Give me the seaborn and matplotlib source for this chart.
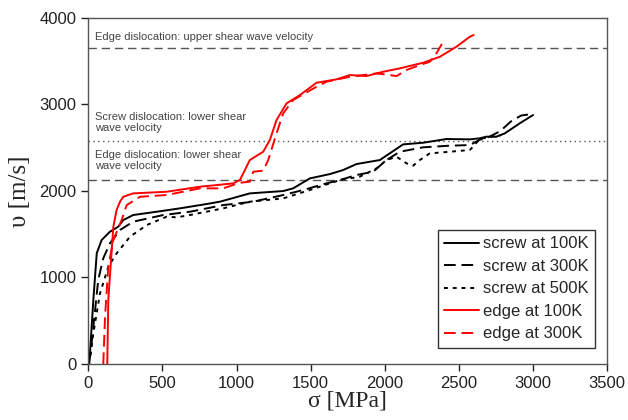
import numpy as np
import pandas as pd
import matplotlib
matplotlib.use('Agg')
import matplotlib.pyplot as plt
import seaborn as sns

# --- data (stress in MPa, velocity in m/s) ---
screw_100_s = [0, 7, 34, 57, 90, 146, 202, 236, 303, 461, 618, 798, 888, 1090, 1315, 1382,
               1495, 1630, 1720, 1810, 1967, 2034, 2124, 2259, 2417, 2574, 2641, 2686,
               2754, 2810, 2911, 3001]
screw_100_v = [0, 8, 739, 1279, 1432, 1528, 1586, 1663, 1721, 1759, 1798, 1848, 1875, 1971,
               1998, 2029, 2144, 2194, 2241, 2310, 2356, 2433, 2537, 2556, 2599, 2595, 2607,
               2626, 2626, 2664, 2780, 2876]

screw_300_s = [0, 15, 34, 67, 101, 146, 214, 303, 506, 686, 910, 1113, 1315, 1450, 1608,
               1697, 1810, 1922, 2012, 2102, 2259, 2439, 2574, 2641, 2700, 2780, 2850,
               2920, 3000]
screw_300_v = [0, 120, 431, 970, 1221, 1394, 1548, 1644, 1721, 1759, 1836, 1875, 1952,
               2010, 2087, 2125, 2183, 2221, 2356, 2452, 2503, 2522, 2529, 2590, 2620,
               2690, 2800, 2870, 2890]

screw_500_s = [0, 15, 34, 79, 135, 191, 281, 394, 529, 596, 686, 910, 1090, 1315, 1495,
               1697, 1832, 1945, 2012, 2080, 2147, 2192, 2237, 2304, 2439, 2574, 2596,
               2641, 2700, 2780]
screw_500_v = [0, 100, 354, 816, 1124, 1278, 1470, 1605, 1702, 1694, 1721, 1798, 1875,
               1913, 2010, 2125, 2164, 2260, 2356, 2394, 2318, 2291, 2356, 2433, 2452,
               2472, 2510, 2600, 2620, 2640]

edge_100_s = [128, 135, 158, 169, 191, 214, 236, 303, 529, 753, 866, 978, 1023, 1090, 1180,
              1225, 1270, 1338, 1428, 1540, 1675, 1765, 1877, 1989, 2102, 2259, 2372,
              2484, 2574, 2600]
edge_100_v = [0, 739, 1317, 1586, 1779, 1875, 1932, 1971, 1990, 2048, 2067, 2087, 2125,
              2356, 2452, 2587, 2818, 3011, 3107, 3249, 3288, 3338, 3326, 3376, 3415,
              3480, 3549, 3665, 3780, 3800]

edge_300_s = [101, 113, 135, 169, 225, 259, 349, 529, 753, 910, 1023, 1090, 1113, 1180,
              1214, 1270, 1315, 1382, 1540, 1608, 1765, 1945, 2034, 2080, 2147, 2237,
              2304, 2349, 2394]
edge_300_v = [0, 546, 1124, 1432, 1663, 1836, 1932, 1952, 2029, 2029, 2094, 2106, 2221,
              2233, 2356, 2664, 2895, 3049, 3203, 3261, 3318, 3357, 3338, 3326, 3396,
              3453, 3491, 3588, 3722]

# reference velocities (horizontal lines)
edge_upper_shear = 3650
screw_lower_shear = 2580
edge_lower_shear = 2130

series = [
    ('screw at 100K', screw_100_s, screw_100_v, 'black', '-'),
    ('screw at 300K', screw_300_s, screw_300_v, 'black', (0, (6, 3))),
    ('screw at 500K', screw_500_s, screw_500_v, 'black', (0, (2, 2.5))),
    ('edge at 100K', edge_100_s, edge_100_v, 'red', '-'),
    ('edge at 300K', edge_300_s, edge_300_v, 'red', (0, (6, 3))),
]

sns.set_style('ticks')
plt.rcParams['font.family'] = ['Liberation Sans', 'DejaVu Sans']

fig = plt.figure(figsize=(6.28, 4.2), dpi=100)
ax = fig.add_axes([0.1406, 0.1333, 0.826, 0.8245])

GRAY = '#555555'
ax.axhline(edge_upper_shear, color=GRAY, linestyle=(0, (6, 3.5)), linewidth=1.0)
ax.axhline(screw_lower_shear, color=GRAY, linestyle=(0, (1, 2.5)), linewidth=1.0)
ax.axhline(edge_lower_shear, color=GRAY, linestyle=(0, (6, 3.5)), linewidth=1.0)

txt_kw = dict(fontsize=8, color='#444444', va='center', ha='left', linespacing=1.1)
ax.text(45, 3780, 'Edge dislocation: upper shear wave velocity', **txt_kw)
ax.text(45, 2793, 'Screw dislocation: lower shear\nwave velocity', **txt_kw)
ax.text(45, 2350, 'Edge dislocation: lower shear\nwave velocity', **txt_kw)

for label, s, v, c, ls in series:
    df = pd.DataFrame({'sigma': s, 'v': v})
    sns.lineplot(data=df, x='sigma', y='v', ax=ax, color=c, linestyle=ls,
                 linewidth=1.4, sort=False, estimator=None, label=label)

ax.set_xlim(0, 3500)
ax.set_ylim(0, 4000)
ax.set_xticks(np.arange(0, 3501, 500))
ax.set_yticks(np.arange(0, 4001, 1000))
ax.tick_params(direction='out', length=5, width=1, labelsize=12, colors='#222222')
for spine in ax.spines.values():
    spine.set_color('#555555')
    spine.set_linewidth(1.0)
    spine.set_visible(True)

ax.set_xlabel('σ [MPa]', fontsize=17, family=['Liberation Serif', 'DejaVu Serif'], labelpad=0)
ax.set_ylabel('υ [m/s]', fontsize=18, family=['Liberation Serif', 'DejaVu Serif'], labelpad=6)

leg = ax.legend(loc='lower right', bbox_to_anchor=(0.977, 0.046), borderaxespad=0,
                fontsize=12, frameon=True, fancybox=False, framealpha=1,
                edgecolor='#333333', handlelength=2.1, handletextpad=0.2,
                labelspacing=0.45, borderpad=0.4)
leg.get_frame().set_linewidth(1.0)

fig.savefig('out.png', dpi=100)
